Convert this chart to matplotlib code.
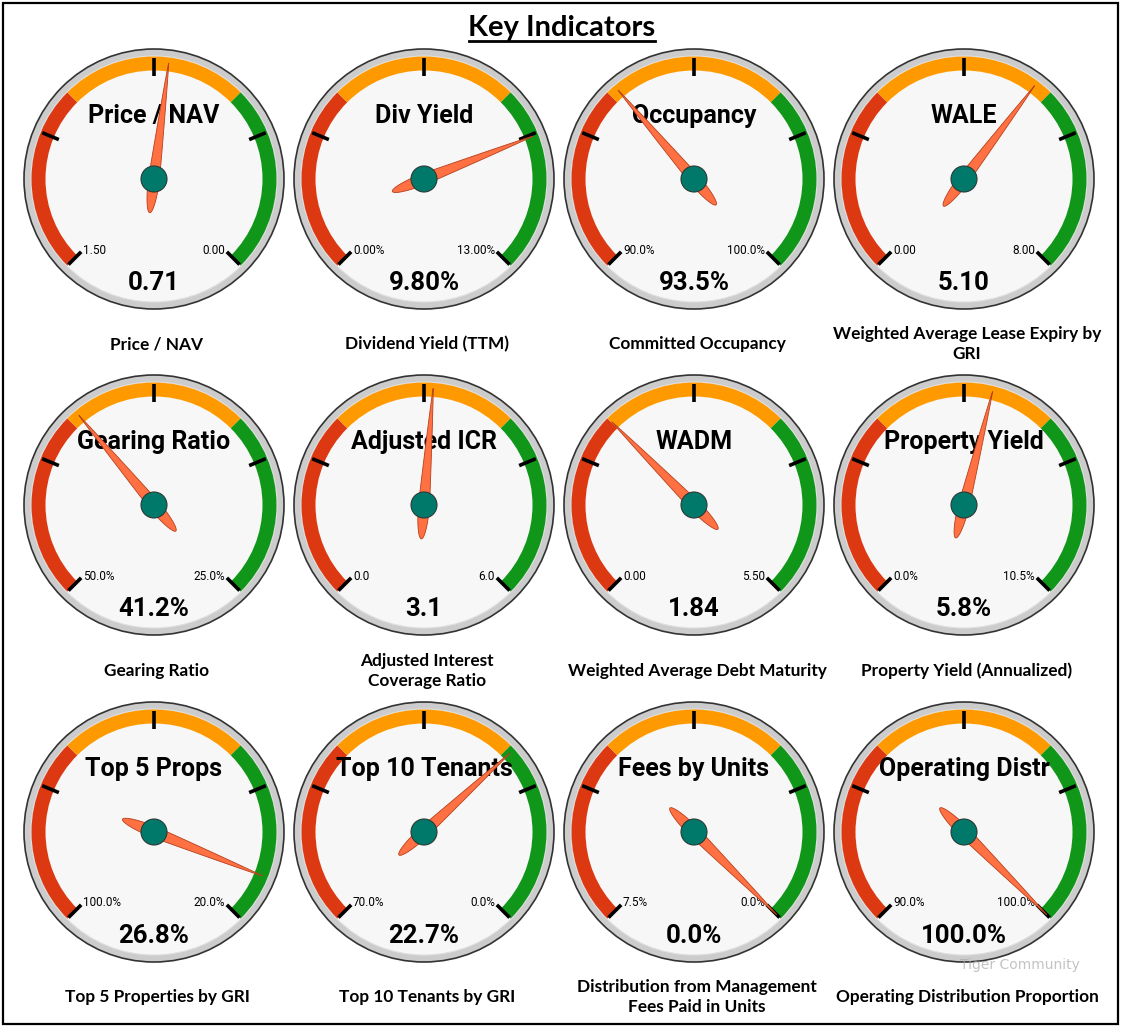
import numpy as np
import matplotlib
matplotlib.use("Agg")
import matplotlib.pyplot as plt
from matplotlib.patches import Circle, Wedge, Polygon, Rectangle

# ---------------- data ----------------
gauge_titles = ["Price / NAV", "Div Yield", "Occupancy", "WALE",
                "Gearing Ratio", "Adjusted ICR", "WADM", "Property Yield",
                "Top 5 Props", "Top 10 Tenants", "Fees by Units", "Operating Distr"]
captions = ["Price / NAV", "Dividend Yield (TTM)", "Committed Occupancy",
            "Weighted Average Lease Expiry by\nGRI",
            "Gearing Ratio", "Adjusted Interest\nCoverage Ratio",
            "Weighted Average Debt Maturity", "Property Yield (Annualized)",
            "Top 5 Properties by GRI", "Top 10 Tenants by GRI",
            "Distribution from Management\nFees Paid in Units",
            "Operating Distribution Proportion"]
scale_start = [1.50, 0.00, 90.0, 0.00, 50.0, 0.0, 0.00, 0.0, 100.0, 70.0, 7.5, 90.0]
scale_end = [0.00, 13.00, 100.0, 8.00, 25.0, 6.0, 5.50, 10.5, 20.0, 0.0, 0.0, 100.0]
values = [0.71, 9.80, 93.5, 5.10, 41.2, 3.1, 1.84, 5.8, 26.8, 22.7, 0.0, 100.0]
start_labels = ["1.50", "0.00%", "90.0%", "0.00", "50.0%", "0.0", "0.00", "0.0%",
                "100.0%", "70.0%", "7.5%", "90.0%"]
end_labels = ["0.00", "13.00%", "100.0%", "8.00", "25.0%", "6.0", "5.50", "10.5%",
              "20.0%", "0.0%", "0.0%", "100.0%"]
value_labels = ["0.71", "9.80%", "93.5%", "5.10", "41.2%", "3.1", "1.84", "5.8%",
                "26.8%", "22.7%", "0.0%", "100.0%"]
band_colors = ["#DC3912", "#FF9900", "#109618"]   # start, middle, end thirds

W, H = 1122, 1027
fig = plt.figure(figsize=(W / 100, H / 100), dpi=100)
ax = fig.add_axes([0, 0, 1, 1])
ax.set_xlim(0, W)
ax.set_ylim(0, H)
ax.set_aspect("equal")
ax.axis("off")
fig.patch.set_facecolor("white")

def Y(y):
    return H - y

# border
ax.add_patch(Rectangle((3, Y(1024)), 1115, 1021, fill=False, ec="black", lw=1.6, zorder=1))

# title
t = ax.text(W / 2 + 1, Y(28), "Key Indicators", family="Lato", weight="bold",
            fontsize=21, ha="center", va="center", zorder=5)
fig.canvas.draw()
bb = t.get_window_extent(fig.canvas.get_renderer())
ax.plot([bb.x0 + 1, bb.x1 - 1], [Y(41), Y(41)], color="black", lw=2, zorder=5)

col_x = [154, 424, 694, 964]
row_y = [179, 505, 832]
cap_y = [344, 671, 997]

R_OUT = 130
R_FACE = 123
BAND_W = 14
START_ANG, SWEEP = 225.0, 270.0

def needle_poly(cx, cy, ang):
    a = np.deg2rad(ang)
    d = np.array([np.cos(a), np.sin(a)])
    n = np.array([-np.sin(a), np.cos(a)])
    tail, tip, hw = 34.0, 117.0, 5.6
    th = np.linspace(np.pi / 2, 3 * np.pi / 2, 30)
    us_tail = tail * np.cos(th)
    ws_tail = hw * np.sin(th)
    uf = np.linspace(0, tip, 40)
    wf = hw * (1 - uf / tip) ** 0.85
    u = np.concatenate([uf[::-1], us_tail, uf])
    w = np.concatenate([wf[::-1], ws_tail, -wf])
    pts = np.array([cx, cy]) + np.outer(u, d) + np.outer(w, n)
    return pts

for i in range(12):
    cx = col_x[i % 4]
    cy = Y(row_y[i // 4])
    # rim and face
    ax.add_patch(Circle((cx, cy), R_OUT, fc="#CCCCCC", ec="#333333", lw=1.2, zorder=2))
    ax.add_patch(Circle((cx, cy), R_FACE, fc="#F7F7F7", ec="#E0E0E0", lw=0.8, zorder=2))
    # bands
    for k in range(3):
        a2 = START_ANG - SWEEP * k / 3
        a1 = START_ANG - SWEEP * (k + 1) / 3
        ax.add_patch(Wedge((cx, cy), R_FACE - 0.5, a1, a2, width=BAND_W,
                           fc=band_colors[k], ec="none", zorder=3))
    # major ticks
    for k in range(5):
        a = np.deg2rad(START_ANG - SWEEP * k / 4)
        r0, r1 = 103, 121
        ax.plot([cx + r0 * np.cos(a), cx + r1 * np.cos(a)],
                [cy + r0 * np.sin(a), cy + r1 * np.sin(a)],
                color="black", lw=2.6, solid_capstyle="butt", zorder=4)
    # texts
    ax.text(cx, cy + 63, gauge_titles[i], family="Roboto", weight="bold",
            fontsize=18, ha="center", va="center", zorder=5)
    ax.text(cx, cy - 104, value_labels[i], family="Roboto", weight="bold",
            fontsize=18.5, ha="center", va="center", zorder=5)
    ax.text(cx - 71, cy - 71, start_labels[i], family="Roboto",
            fontsize=8.5, ha="left", va="center", zorder=5)
    ax.text(cx + 71, cy - 71, end_labels[i], family="Roboto",
            fontsize=8.5, ha="right", va="center", zorder=5)
    # needle
    frac = (values[i] - scale_start[i]) / (scale_end[i] - scale_start[i])
    frac = min(max(frac, 0.0), 1.0)
    ang = START_ANG - SWEEP * frac
    ax.add_patch(Polygon(needle_poly(cx, cy, ang), closed=True, fc="#FF7043",
                         ec="#B5401C", lw=0.6, zorder=6))
    ax.add_patch(Circle((cx, cy), 13, fc="#00796B", ec="#2B3A36", lw=0.8, zorder=7))
    # caption
    ax.text(cx + 3, Y(cap_y[i // 4]), captions[i], family="Lato", weight="bold",
            fontsize=12.4, ha="center", va="center", linespacing=1.25, zorder=5)

# watermark
ax.text(1020, Y(965), "Tiger Community", family="DejaVu Sans", fontsize=10,
        color="#AAAAAA", alpha=0.7, ha="center", va="center", zorder=8)

fig.savefig("out.png", dpi=100, facecolor="white")
